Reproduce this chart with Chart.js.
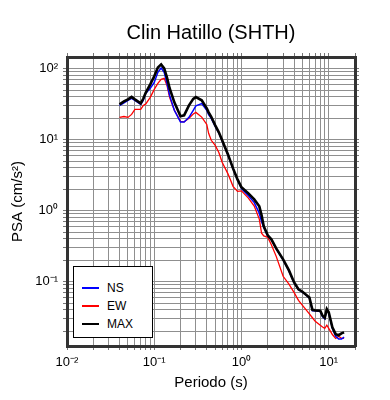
<!DOCTYPE html>
<html lang="es">
<head>
<meta charset="utf-8">
<title>Clin Hatillo (SHTH)</title>
<script src="https://cdn.jsdelivr.net/npm/chart.js@4.4.1/dist/chart.umd.min.js"></script>
<style>
    body { margin: 0; background: #fff; }
    #contenedor { position: relative; width: 390px; height: 400px; }
    #leyenda {
        position: absolute; left: 73px; top: 266px; width: 78px; height: 70px;
        background: #fff; border: 1.5px solid #000;
        font: 12px 'Liberation Sans', Arial, sans-serif; color: #000;
    }
    .fila { position: absolute; left: 0; height: 18px; line-height: 18px; }
    .fila .linea { position: absolute; left: 8px; top: 8px; width: 17px; height: 2px; }
    .fila span { position: absolute; left: 33px; white-space: nowrap; }
</style>
</head>
<body>
<div id="contenedor">
    <canvas id="espectro" width="390" height="400"></canvas>
    <div id="leyenda"></div>
</div>
<script>
// Periodos (s) y PSA (cm/s²)
const periodos = [0.04, 0.045, 0.05, 0.055, 0.06, 0.07, 0.075, 0.08, 0.09, 0.1,
    0.11, 0.12, 0.13, 0.14, 0.15, 0.17, 0.2, 0.22, 0.25, 0.28,
    0.3, 0.35, 0.4, 0.42, 0.45, 0.5, 0.55, 0.6, 0.7, 0.8,
    0.9, 1.0, 1.2, 1.4, 1.6, 1.7, 1.8, 2.0, 2.2, 2.5,
    3, 3.5, 4, 4.5, 5, 6, 6.5, 7, 8, 8.5,
    9, 9.5, 10, 11, 12, 13, 14, 15];

const psaNS = [30.3, 33, 35.8, 38.2, 35.8, 31.4, 36, 44.9, 52.8, 64,
    88.7, 102, 88.7, 62, 42, 25.9, 17.7, 17.7, 20.6, 25.9,
    29.9, 32.2, 25.9, 22.5, 19.9, 15.4, 12.5, 9.6, 6.1, 3.9,
    2.72, 2.05, 1.62, 1.3, 0.92, 0.7, 0.58, 0.44, 0.39, 0.29,
    0.203, 0.142, 0.097, 0.077, 0.071, 0.059, 0.039, 0.039, 0.038, 0.032,
    0.030, 0.040, 0.036, 0.022, 0.017, 0.0155, 0.0155, 0.0165];

const psaEW = [20.6, 21.2, 20.6, 22.7, 26.7, 26.7, 30.4, 31.9, 39.4, 51.1,
    62, 70.7, 73, 58, 39.4, 25.9, 18.1, 17.8, 20, 23,
    24.2, 20.8, 16.4, 12.3, 9.8, 8.3, 6.6, 4.8, 3.3, 2.2,
    1.87, 1.9, 1.5, 1.16, 0.76, 0.48, 0.44, 0.42, 0.33, 0.227,
    0.119, 0.092, 0.0707, 0.0545, 0.0464, 0.0352, 0.031, 0.0276, 0.0243, 0.023,
    0.022, 0.0243, 0.022, 0.018, 0.0159, 0.017, 0.0159, 0.0159];

const psaMAX = [31.4, 34.6, 37, 40, 37, 32.5, 38, 46, 60, 78,
    104, 115, 101, 75, 53, 33.5, 21.4, 22, 30.4, 37.6,
    39.8, 35.8, 27.6, 24.3, 21, 15.9, 12.7, 9.8, 6.2, 3.94,
    2.76, 2.13, 1.75, 1.44, 1.15, 0.86, 0.6, 0.45, 0.394, 0.294,
    0.206, 0.144, 0.098, 0.078, 0.072, 0.060, 0.040, 0.0394, 0.039, 0.033,
    0.031, 0.041, 0.037, 0.0228, 0.0182, 0.0176, 0.0187, 0.0193];

const limitesX = [0.01, 20];
const limitesY = [0.0124, 146];

const fuente = "'Liberation Sans', Arial, sans-serif";
const superindices = { '-': '\u207B', '0': '\u2070', '1': '\u00B9', '2': '\u00B2', '3': '\u00B3' };

// Genera las marcas 1..9 x 10^n dentro del rango
function marcasLog(min, max) {
    const lista = [];
    for (let e = Math.floor(Math.log10(min)); e <= Math.ceil(Math.log10(max)); e++) {
        for (let m = 1; m <= 9; m++) {
            const v = parseFloat((m * Math.pow(10, e)).toPrecision(6));
            if (v >= min && v <= max) lista.push({ value: v, major: m === 1 });
        }
    }
    return lista;
}

function etiquetaPotencia(valor, indice, marcas) {
    if (!marcas[indice].major) return '';
    const e = String(Math.round(Math.log10(valor)));
    return '10' + e.split('').map(c => superindices[c]).join('');
}

function puntos(valores) {
    return periodos.map((t, i) => ({ x: t, y: valores[i] }));
}

const bordeMarco = { color: '#333', width: 3 };

function ejeLog(posicion, limites, visible) {
    return {
        type: 'logarithmic',
        position: posicion,
        min: limites[0],
        max: limites[1],
        afterBuildTicks: escala => { escala.ticks = marcasLog(limites[0], limites[1]); },
        ticks: {
            display: visible,
            autoSkip: false,
            maxRotation: 0,
            color: '#000',
            padding: 5,
            font: { family: fuente, size: 13 },
            callback: etiquetaPotencia
        },
        grid: {
            drawOnChartArea: visible,
            color: '#8f8f8f',
            tickColor: '#777',
            tickLength: 4
        },
        border: bordeMarco
    };
}

const ejeX = ejeLog('bottom', limitesX, true);
ejeX.title = { display: true, text: 'Periodo (s)', color: '#000', font: { family: fuente, size: 15 }, padding: { top: 0, bottom: 8 } };
ejeX.afterFit = escala => { escala.height = 54; };

const ejeY = ejeLog('left', limitesY, true);
ejeY.title = { display: true, text: 'PSA (cm/s\u00B2)', color: '#000', font: { family: fuente, size: 15 }, padding: { top: 9, bottom: 0 } };
ejeY.afterFit = escala => { escala.width = 67; };

const ejeX2 = ejeLog('top', limitesX, false);
ejeX2.afterFit = escala => { escala.height = 12; };

const ejeY2 = ejeLog('right', limitesY, false);
ejeY2.afterFit = escala => { escala.width = 35; };

const series = [
    { label: 'NS', data: puntos(psaNS), borderColor: '#0000ff', borderWidth: 1.5, order: 1 },
    { label: 'EW', data: puntos(psaEW), borderColor: '#ff0000', borderWidth: 1.3, order: 2 },
    { label: 'MAX', data: puntos(psaMAX), borderColor: '#000000', borderWidth: 2.6, order: 0 }
];

const grafico = new Chart(document.getElementById('espectro'), {
    type: 'line',
    data: {
        datasets: series.map(s => Object.assign({ pointRadius: 0, tension: 0, fill: false }, s))
    },
    options: {
        responsive: false,
        animation: false,
        layout: { padding: 0 },
        plugins: {
            legend: { display: false },
            tooltip: { enabled: false },
            title: {
                display: true,
                text: 'Clin Hatillo (SHTH)',
                color: '#000',
                fullSize: false,
                font: { family: fuente, size: 20, weight: 'normal' },
                padding: { top: 21, bottom: 0 }
            }
        },
        scales: { x: ejeX, y: ejeY, x2: ejeX2, y2: ejeY2 }
    }
});

// Leyenda en HTML dentro del área del gráfico
const leyenda = document.getElementById('leyenda');
grafico.data.datasets.forEach((ds, i) => {
    const fila = document.createElement('div');
    fila.className = 'fila';
    fila.style.top = (12 + i * 18) + 'px';
    fila.innerHTML = `<div class="linea" style="background:${ds.borderColor}"></div><span>${ds.label}</span>`;
    leyenda.appendChild(fila);
});
</script>
</body>
</html>
